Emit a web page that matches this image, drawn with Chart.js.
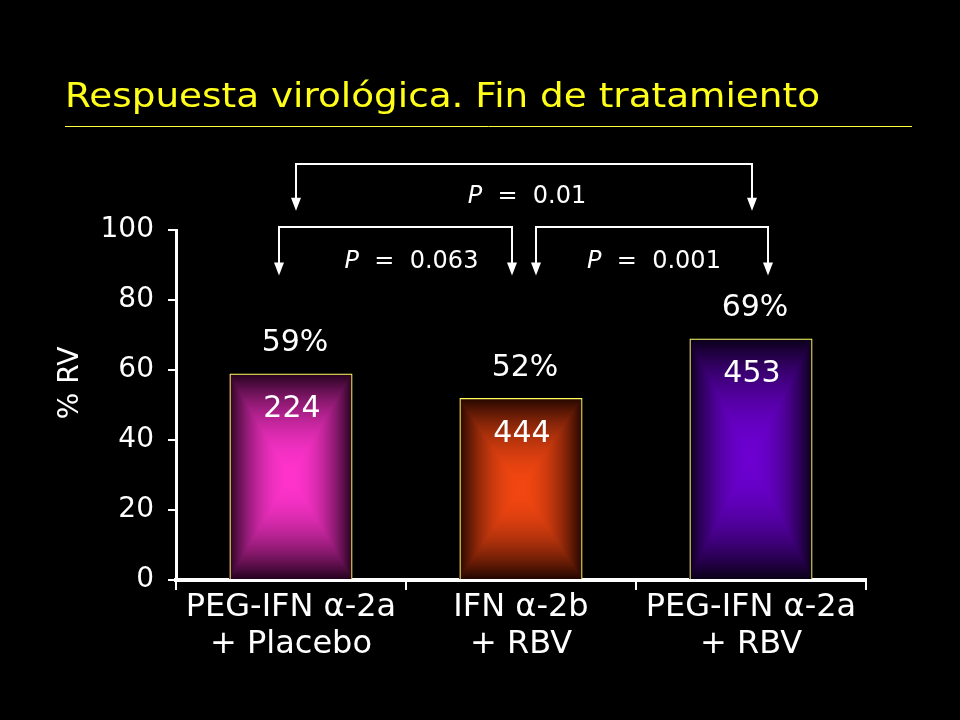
<!DOCTYPE html>
<html lang="es">
<head>
  <meta charset="UTF-8" />
  <title>Respuesta virológica. Fin de tratamiento</title>
  <script src="https://cdn.jsdelivr.net/npm/chart.js"></script>
  <style>
    html, body { margin: 0; padding: 0; background: #000; }
    #wrap { position: relative; width: 960px; height: 720px; }
  </style>
</head>
<body>
  <div id="wrap"><canvas id="chart" width="960" height="720"></canvas></div>

  <script>
    const categories = [["PEG-IFN α-2a", "+ Placebo"], ["IFN α-2b", "+ RBV"], ["PEG-IFN α-2a", "+ RBV"]];
    const responseRates = [59, 52, 69];
    const patientCounts = [224, 444, 453];
    const comparisons = [[0, 2], [0, 1], [1, 2]];
    const pValues = ["0.01", "0.063", "0.001"];

    // bar colours: bright centre fading to dark edges
    const centerColors = [[255, 51, 204], [242, 70, 17], [108, 0, 208]];
    const edgeColors = [[36, 2, 30], [34, 6, 0], [10, 0, 24]];

    const FONT = "'DejaVu Sans', Verdana, sans-serif";
    Chart.defaults.font.family = FONT;

    // rectangular "from centre" gradient, computed pixel by pixel
    function boxGradient(w, h, inner, outer) {
      const c = document.createElement("canvas");
      c.width = w;
      c.height = h;
      const g = c.getContext("2d");
      const img = g.createImageData(w, h);
      const hw = w / 2, hh = h / 2;
      for (let y = 0; y < h; y++) {
        for (let x = 0; x < w; x++) {
          const t = Math.max(Math.abs(x + 0.5 - hw) / hw, Math.abs(y + 0.5 - hh) / hh);
          const f = 1 - Math.pow(t, 2);
          const k = (y * w + x) * 4;
          for (let j = 0; j < 3; j++) img.data[k + j] = outer[j] + (inner[j] - outer[j]) * f;
          img.data[k + 3] = 255;
        }
      }
      g.putImageData(img, 0, 0);
      return c;
    }

    const barFill = {
      id: "barFill",
      beforeDatasetsDraw(chart) {
        const ctx = chart.ctx;
        chart.getDatasetMeta(0).data.forEach((bar, i) => {
          const p = bar.getProps(["x", "y", "base", "width"], true);
          const l = Math.round(p.x - p.width / 2), t = Math.round(p.y);
          const w = Math.round(p.width), h = Math.round(p.base) - t;
          ctx.drawImage(boxGradient(w, h, centerColors[i], edgeColors[i]), l, t);
        });
      }
    };

    const barLabels = {
      id: "barLabels",
      afterDatasetsDraw(chart) {
        const ctx = chart.ctx;
        ctx.save();
        ctx.fillStyle = "#fff";
        ctx.font = `30px ${FONT}`;
        ctx.textAlign = "center";
        ctx.textBaseline = "middle";
        chart.getDatasetMeta(0).data.forEach((bar, i) => {
          ctx.fillText(responseRates[i] + "%", bar.x + 4, bar.y - 30);
          ctx.fillText(String(patientCounts[i]), bar.x + 1, bar.y + 36);
        });
        ctx.restore();
      }
    };

    // comparison brackets; heights in axis units, shifts in px from category centre
    const bracketStyle = [
      { level: 119, tip: 105.5, label: 109.5, shift: [5, 1], textShift: 3 },
      { level: 101, tip: 87, label: 90.8, shift: [-12, -9], textShift: 16 },
      { level: 101, tip: 87, label: 90.8, shift: [15, 17], textShift: 2 }
    ];

    const decorations = {
      id: "decorations",
      afterDraw(chart) {
        const ctx = chart.ctx;
        const y = chart.scales.y;
        const bars = chart.getDatasetMeta(0).data;
        const area = chart.chartArea;
        ctx.save();

        // title + rule
        ctx.fillStyle = "#ffff1a";
        ctx.font = `34px ${FONT}`;
        ctx.textBaseline = "alphabetic";
        ctx.textAlign = "left";
        const title = "Respuesta virológica. Fin de tratamiento";
        const sx = 755 / ctx.measureText(title).width;
        ctx.save();
        ctx.translate(65, 107);
        ctx.scale(sx, 1);
        ctx.fillText(title, 0, 0);
        ctx.restore();
        ctx.strokeStyle = "#ffff40";
        ctx.lineWidth = 1;
        ctx.beginPath();
        ctx.moveTo(65, 126.5);
        ctx.lineTo(912, 126.5);
        ctx.stroke();

        // y axis title
        ctx.save();
        ctx.translate(71, (area.top + area.bottom) / 2 - 22);
        ctx.rotate(-Math.PI / 2);
        ctx.fillStyle = "#fff";
        ctx.font = `28px ${FONT}`;
        ctx.textAlign = "center";
        ctx.textBaseline = "middle";
        ctx.fillText("% RV", 0, 0);
        ctx.restore();

        // brackets
        ctx.strokeStyle = "#fff";
        ctx.fillStyle = "#fff";
        ctx.lineWidth = 2;
        comparisons.forEach(([a, b], k) => {
          const s = bracketStyle[k];
          const xa = Math.round(bars[a].x + s.shift[0]), xb = Math.round(bars[b].x + s.shift[1]);
          const yl = Math.round(y.getPixelForValue(s.level)), yt = y.getPixelForValue(s.tip);
          ctx.beginPath();
          ctx.moveTo(xa, yt - 10);
          ctx.lineTo(xa, yl);
          ctx.lineTo(xb, yl);
          ctx.lineTo(xb, yt - 10);
          ctx.stroke();
          [xa, xb].forEach(x => {
            ctx.beginPath();
            ctx.moveTo(x - 5, yt - 13);
            ctx.lineTo(x + 5, yt - 13);
            ctx.lineTo(x, yt);
            ctx.closePath();
            ctx.fill();
          });

          const yText = y.getPixelForValue(s.label);
          ctx.textBaseline = "middle";
          ctx.textAlign = "left";
          ctx.font = `italic 24px ${FONT}`;
          const wp = ctx.measureText("P").width;
          ctx.font = `24px ${FONT}`;
          const rest = "  =  " + pValues[k];
          const wr = ctx.measureText(rest).width;
          const x0 = (xa + xb) / 2 + s.textShift - (wp + wr) / 2;
          ctx.font = `italic 24px ${FONT}`;
          ctx.fillText("P", x0, yText);
          ctx.font = `24px ${FONT}`;
          ctx.fillText(rest, x0 + wp, yText);
        });

        ctx.restore();
      }
    };

    new Chart(document.getElementById("chart"), {
      type: "bar",
      data: {
        labels: categories,
        datasets: [{
          data: responseRates,
          backgroundColor: "rgba(0,0,0,0)",
          borderColor: "#ffff60",
          borderWidth: 1.2,
          borderSkipped: "bottom",
          barPercentage: 0.535,
          categoryPercentage: 1
        }]
      },
      options: {
        responsive: false,
        animation: false,
        layout: { padding: { top: 230, right: 94, left: 0, bottom: 0 } },
        plugins: { legend: { display: false }, tooltip: { enabled: false } },
        scales: {
          x: {
            grid: { drawOnChartArea: false, tickLength: 10, color: "#fff", lineWidth: 2, offset: true },
            border: { color: "#fff", width: 4 },
            ticks: { color: "#fff", font: { size: 32, lineHeight: 1.13 }, padding: 0 },
            afterFit: s => { s.height = 140; }
          },
          y: {
            min: 0,
            max: 100,
            ticks: { stepSize: 20, color: "#fff", font: { size: 28 }, padding: 14 },
            grid: { drawOnChartArea: false, tickLength: 8, color: "#fff", lineWidth: 2 },
            border: { color: "#fff", width: 3 },
            afterFit: s => { s.width = 176; }
          }
        }
      },
      plugins: [barFill, barLabels, decorations]
    });
  </script>
</body>
</html>
